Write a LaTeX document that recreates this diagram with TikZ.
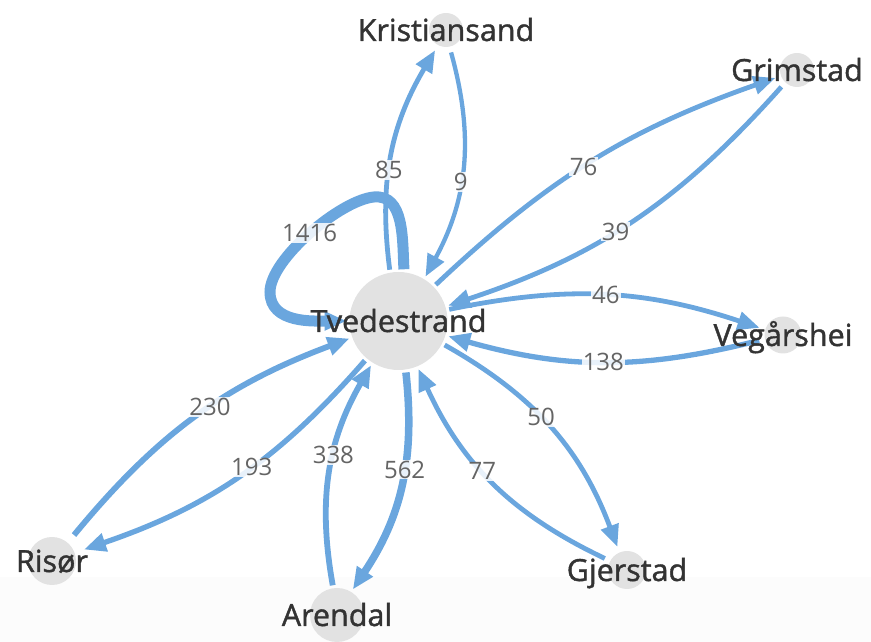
\documentclass[tikz,border=0pt]{standalone}
\usepackage{fontspec}
\setmainfont{Open Sans}
\newfontfamily\namefont{Open Sans}[FakeBold=1.3]
\usetikzlibrary{arrows.meta}

\definecolor{edgeblue}{RGB}{106,166,222}
\definecolor{nodegrey}{RGB}{226,226,226}
\definecolor{namegrey}{RGB}{51,51,51}
\definecolor{countgrey}{RGB}{100,100,100}

\tikzset{
	town/.style={circle, fill=nodegrey, inner sep=0pt, minimum size=#1, outer sep=6pt},
	townname/.style={anchor=base, yshift=-11pt, inner sep=0pt, text=namegrey, font=\namefont\fontsize{30.5}{36}\selectfont},
	flow/.style={draw=edgeblue, line width=#1, -{Triangle[length=22pt,width=18pt]}},
	count/.style={fill=white, fill opacity=0.85, text opacity=1, inner sep=1pt, text=countgrey, font=\fontsize{24}{27}\selectfont}
}

\begin{document}
\begin{tikzpicture}[x=1pt, y=1pt]
	
	% Frame
	\useasboundingbox (0,0) rectangle (871,642);
	\fill[gray!2] (0,0) rectangle (871,65);
	
	% Towns
	\node[town=98pt, outer sep=3pt] (T) at (398.5,321) {};
	\node[town=34pt] (K) at (446,612) {};
	\node[town=34pt] (G) at (797,572) {};
	\node[town=37pt] (V) at (783,307) {};
	\node[town=38pt] (Gj) at (627,72) {};
	\node[town=54pt, outer sep=3pt] (A) at (337,27) {};
	\node[town=48pt, outer sep=10pt] (R) at (52,81) {};
	
	% Loop coordinates
	\coordinate (loopTop) at (374,445);
	\coordinate (loopLeft) at (270,350);
	
	% Self loop
	\draw[flow=11pt] (T.84) to[out=93,in=5] (loopTop)
		to[out=185,in=90,looseness=0.6] node[count] {1416} (loopLeft)
		to[out=270,in=180] (T.west);
	
	% Flows
	\foreach \from/\to/\val/\w/\b/\p in {T/K/85/4.8pt/19/0.43, K/T/9/4.3pt/22/0.57,
		T/G/76/4.8pt/12/0.47, G/T/39/4.8pt/15/0.55, T/V/46/4.8pt/15/0.5, V/T/138/5.3pt/15/0.5,
		T/Gj/50/4.8pt/20/0.44, Gj/T/77/4.8pt/20/0.56, T/A/562/7.5pt/20/0.42, A/T/338/5.8pt/20/0.58,
		T/R/193/5.3pt/15/0.45, R/T/230/5.8pt/15/0.55}{
		\draw[flow=\w] (\from) to[bend left=\b] node[count, pos=\p] {\val} (\to);
	}
	
	% Names
	\node[townname] (Tname) at (T) {Tvedestrand};
	\node[townname] (Kname) at (K) {Kristiansand};
	\node[townname] (Gname) at (G) {Grimstad};
	\node[townname] (Vname) at (V) {Vegårshei};
	\node[townname] (Gjname) at (Gj) {Gjerstad};
	\node[townname] (Aname) at (A) {Arendal};
	\node[townname] (Rname) at (R) {Risør};
	
\end{tikzpicture}
\end{document}
